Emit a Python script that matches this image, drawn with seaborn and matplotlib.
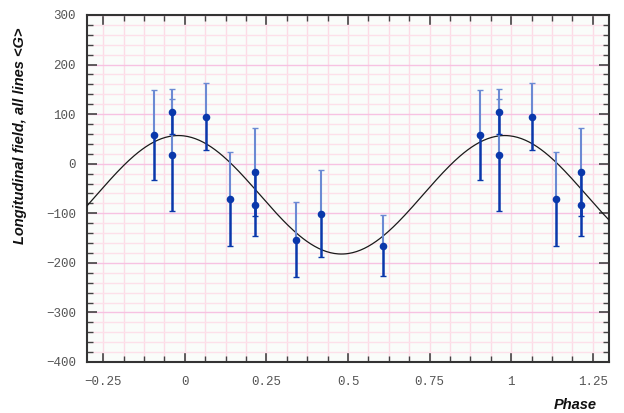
import numpy as np
import pandas as pd
import matplotlib
matplotlib.use("Agg")
import matplotlib.pyplot as plt
import seaborn as sns
from matplotlib.ticker import MultipleLocator

# ---- data ----
phase = [0.905, 0.962, 0.962, 0.064, 0.137, 0.215, 0.215, 0.342, 0.416, 0.608]
field = [58, 105, 18, 95, -72, -16, -83, -153, -101, -165]
field_err = [90, 45, 113, 68, 95, 89, 63, 75, 88, 62]

# sinusoidal fit parameters
fit_B0 = -62.7
fit_B1 = 119.5
fit_phase_max = 0.98

xticks = [-0.25, 0, 0.25, 0.5, 0.75, 1, 1.25]
xticklabels = ["\u22120.25", "0", "0.25", "0.5", "0.75", "1", "1.25"]
yticks = [-400, -300, -200, -100, 0, 100, 200, 300]
yticklabels = ["\u2212400", "\u2212300", "\u2212200", "\u2212100", "0", "100", "200", "300"]

xmin, xmax = -0.3, 1.3

# phase-folded copies within the plotted range
rows = []
for p, b, e in zip(phase, field, field_err):
    for shift in (-1, 0, 1):
        q = p + shift
        if xmin <= q <= xmax:
            rows.append((q, b, e))
df = pd.DataFrame(rows, columns=["phase", "field", "err"])

xs = np.linspace(xmin, xmax, 400)
curve = pd.DataFrame({"phase": xs,
                      "field": fit_B0 + fit_B1 * np.cos(2 * np.pi * (xs - fit_phase_max))})

sns.set_style("white")
fig = plt.figure(figsize=(6.24, 4.13), dpi=100)
ax = fig.add_axes([0.1394, 0.1235, 0.8366, 0.8402])
ax.set_facecolor("#fafcfa")

dark = "#0a38ab"
light = "#6b8ad3"

# grid
ax.xaxis.set_minor_locator(MultipleLocator(0.0625))
ax.yaxis.set_minor_locator(MultipleLocator(20))
ax.set_xticks(xticks)
ax.set_yticks(yticks)
ax.grid(which="minor", axis="x", color="#fcdce6", lw=1.0)
ax.grid(which="major", axis="x", color="#fcdce6", lw=1.0)
ax.grid(which="minor", axis="y", color="#fde0ea", lw=1.0)
ax.grid(which="major", axis="y", color="#f7c2e2", lw=1.0)
ax.set_axisbelow(True)

# fit curve
sns.lineplot(data=curve, x="phase", y="field", color="#1a1a1a", lw=0.9, ax=ax, zorder=3)

# error bars (upper half lighter, lower half darker)
ax.errorbar(df["phase"], df["field"], yerr=[np.zeros(len(df)), df["err"]],
            fmt="none", ecolor=light, elinewidth=1.5, capsize=2, capthick=1, zorder=4)
ax.errorbar(df["phase"], df["field"], yerr=[df["err"], np.zeros(len(df))],
            fmt="none", ecolor=dark, elinewidth=1.8, capsize=2, capthick=1, zorder=4)

sns.scatterplot(data=df, x="phase", y="field", color=dark, s=30, edgecolor=dark,
                linewidth=0, ax=ax, zorder=5)

ax.set_xlim(xmin, xmax)
ax.set_ylim(-400, 300)

mono = "Liberation Mono"
ax.set_xticklabels(xticklabels, family=mono, fontsize=9, color="#555555")
ax.set_yticklabels(yticklabels, family=mono, fontsize=9, color="#555555")

ax.tick_params(which="both", direction="in", top=True, right=True, bottom=True, left=True,
               color="#444444")
ax.tick_params(which="major", length=7, width=1.2, pad=10)
ax.tick_params(which="minor", length=4, width=1.0)
ax.tick_params(axis="y", which="major", pad=8)

for s in ax.spines.values():
    s.set_color("#333333")
    s.set_linewidth(1.5)
    s.set_visible(True)

ax.set_xlabel("")
ax.set_ylabel("")
fig.text(20 / 624, 1 - 136 / 413, "Longitudinal field, all lines <G>", rotation=90,
         ha="center", va="center", fontsize=10.5, fontweight="bold", fontstyle="italic",
         family="Liberation Sans", color="#111111")
fig.text(597 / 624, 1 - 405 / 413, "Phase", ha="right", va="center",
         fontsize=10.5, fontweight="bold", fontstyle="italic",
         family="Liberation Sans", color="#111111")

fig.savefig("out.png", dpi=100)
